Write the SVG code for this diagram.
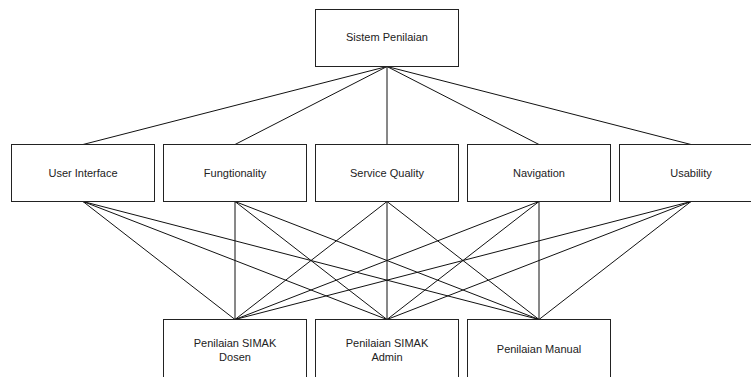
<svg xmlns="http://www.w3.org/2000/svg" width="751" height="377" viewBox="0 0 751 377">
<style>
.box{fill:#fff;stroke:#222;stroke-width:1}
.lbl{font-family:"Liberation Sans",Arial,sans-serif;font-size:11px;fill:#222;text-anchor:middle}
.con line{stroke:#111;stroke-width:1}
</style>
<rect width="751" height="377" fill="#fff"/>
<g id="connectors" class="con">
<line x1="387" y1="66.5" x2="83" y2="144.5"/>
<line x1="387" y1="66.5" x2="235" y2="144.5"/>
<line x1="387" y1="66.5" x2="387" y2="144.5"/>
<line x1="387" y1="66.5" x2="539" y2="144.5"/>
<line x1="387" y1="66.5" x2="691" y2="144.5"/>
<line x1="83" y1="201.5" x2="235" y2="319.5"/>
<line x1="83" y1="201.5" x2="387" y2="319.5"/>
<line x1="83" y1="201.5" x2="539" y2="319.5"/>
<line x1="235" y1="201.5" x2="235" y2="319.5"/>
<line x1="235" y1="201.5" x2="387" y2="319.5"/>
<line x1="235" y1="201.5" x2="539" y2="319.5"/>
<line x1="387" y1="201.5" x2="235" y2="319.5"/>
<line x1="387" y1="201.5" x2="387" y2="319.5"/>
<line x1="387" y1="201.5" x2="539" y2="319.5"/>
<line x1="539" y1="201.5" x2="235" y2="319.5"/>
<line x1="539" y1="201.5" x2="387" y2="319.5"/>
<line x1="539" y1="201.5" x2="539" y2="319.5"/>
<line x1="691" y1="201.5" x2="235" y2="319.5"/>
<line x1="691" y1="201.5" x2="387" y2="319.5"/>
<line x1="691" y1="201.5" x2="539" y2="319.5"/>
</g>
<g id="sistem-penilaian"><rect class="box" x="315.5" y="9.5" width="143" height="57"/><text class="lbl" x="387" y="41">Sistem Penilaian</text></g>
<g id="user-interface"><rect class="box" x="11.5" y="144.5" width="143" height="57"/><text class="lbl" x="83" y="177">User Interface</text></g>
<g id="fungtionality"><rect class="box" x="163.5" y="144.5" width="143" height="57"/><text class="lbl" x="235" y="177">Fungtionality</text></g>
<g id="service-quality"><rect class="box" x="315.5" y="144.5" width="143" height="57"/><text class="lbl" x="387" y="177">Service Quality</text></g>
<g id="navigation"><rect class="box" x="467.5" y="144.5" width="143" height="57"/><text class="lbl" x="539" y="177">Navigation</text></g>
<g id="usability"><rect class="box" x="619.5" y="144.5" width="143" height="57"/><text class="lbl" x="691" y="177">Usability</text></g>
<g id="simak-dosen"><rect class="box" x="163.5" y="319.5" width="143" height="60"/><text class="lbl" x="235" y="347">Penilaian SIMAK</text><text class="lbl" x="235" y="361">Dosen</text></g>
<g id="simak-admin"><rect class="box" x="315.5" y="319.5" width="143" height="60"/><text class="lbl" x="387" y="347">Penilaian SIMAK</text><text class="lbl" x="387" y="361">Admin</text></g>
<g id="manual"><rect class="box" x="467.5" y="319.5" width="143" height="60"/><text class="lbl" x="539" y="353">Penilaian Manual</text></g>
</svg>
